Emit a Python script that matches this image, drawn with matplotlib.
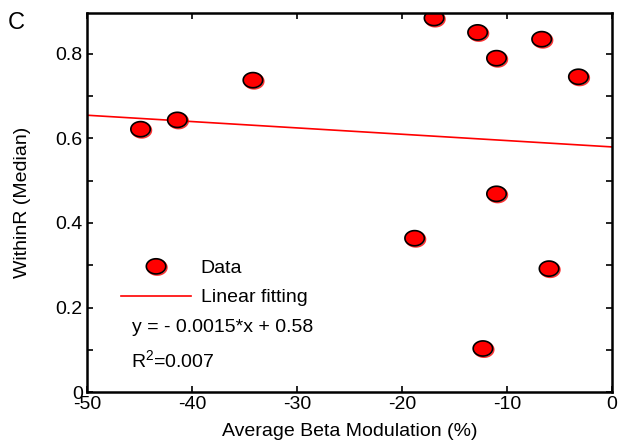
import numpy as np
import matplotlib
matplotlib.use('Agg')
import matplotlib.pyplot as plt
import matplotlib.patheffects as pe
from matplotlib.path import Path

plt.rcParams['font.family'] = ['Liberation Sans', 'DejaVu Sans']
plt.rcParams['axes.unicode_minus'] = False
plt.rcParams['mathtext.fontset'] = 'custom'
plt.rcParams['mathtext.rm'] = 'Liberation Sans'
plt.rcParams['mathtext.it'] = 'Liberation Sans'

# data
beta_mod = [-44.9, -41.4, -34.2, -16.95, -12.8, -6.7, -11.0, -3.2, -11.0, -18.8, -6.0, -12.3]
within_r = [0.622, 0.644, 0.738, 0.885, 0.851, 0.835, 0.790, 0.746, 0.469, 0.364, 0.292, 0.103]
#fit stated on the chart
slope = -0.0015
intercept = 0.58
fit_x = np.array([-50, 0])

xticks = [-50, -40, -30, -20, -10, 0]
yticks = [0, 0.2, 0.4, 0.6, 0.8]
ytick_labels = ['0', '0.2', '0.4', '0.6', '0.8']

fig = plt.figure(figsize=(6.22, 4.47), dpi=100)
ax = fig.add_axes([0.1399, 0.123, 0.8441, 0.848])

ax.plot(fit_x, slope * fit_x + intercept, color='red', lw=1.2, label='Linear fitting')

#ellipse marker, a bit wider than tall
t = np.linspace(0, 2 * np.pi, 60)
ell = Path(np.column_stack([np.cos(t), 0.78 * np.sin(t)]), closed=True)
ax.plot(beta_mod, within_r, ls='none', marker=ell, ms=14, mfc='red', mec='black', mew=1.2,
        label='Data',
        path_effects=[pe.SimpleLineShadow(offset=(0.8, -0.8), shadow_color='red', alpha=0.8), pe.Normal()])

ax.set_xlim(-50, 0)
ax.set_ylim(0, 0.897)
ax.set_xticks(xticks)
ax.set_yticks(yticks)
ax.set_yticklabels(ytick_labels)
ax.set_yticks(np.arange(0.1, 0.9, 0.2), minor=True)
ax.tick_params(which='both', direction='in', top=True, right=True, length=4.5, width=1.2,
               labelsize=14, pad=3)
for s in ax.spines.values():
    s.set_linewidth(1.8)

ax.set_xlabel('Average Beta Modulation (%)', fontsize=14, labelpad=7)
ax.set_ylabel('WithinR (Median)', fontsize=14, labelpad=18)

h, l = ax.get_legend_handles_labels()
ax.legend(h[::-1], l[::-1], loc='upper left', bbox_to_anchor=(0.05, 0.37), frameon=False,
          fontsize=14, handlelength=3.6, handletextpad=0.5, labelspacing=0.6, borderaxespad=0)

ax.text(0.085, 0.169, 'y = - 0.0015*x + 0.58', transform=ax.transAxes, fontsize=14, va='center')
ax.text(0.083, 0.067, 'R$^{2}$=0.007', transform=ax.transAxes, fontsize=14, va='baseline')

fig.text(0.013, 0.935, 'C', fontsize=17)

fig.savefig('out.png', dpi=100)
